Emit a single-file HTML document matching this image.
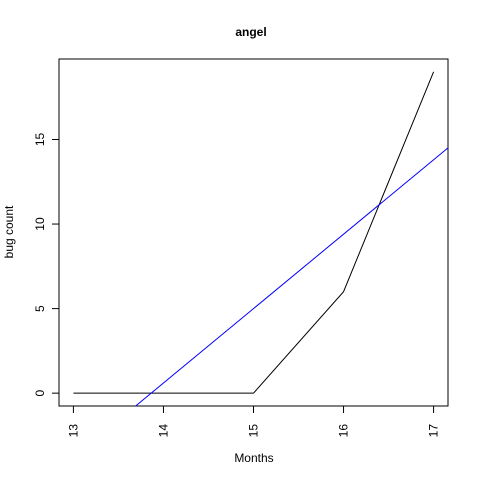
<!DOCTYPE html>
<html><head><meta charset="utf-8"><style>
html,body{margin:0;padding:0;background:#fff;overflow:hidden;width:480px;height:480px}
svg{display:block;overflow:hidden}
svg text{font-family:"Liberation Sans",Arial,sans-serif;font-size:12px;fill:#000}
</style></head><body>
<svg id="c" width="480" height="480"></svg>
<script>
const months=[13,14,15,16,17];
const bugs=[0,0,0,6,19];
const xTicks=[13,14,15,16,17];
const yTicks=[0,5,10,15];
const X0=59,X1=448,Y0=406,Y1=59;
const xmin=12.84,xmax=17.16,ymin=-0.76,ymax=19.76;
const sx=v=>X0+(v-xmin)/(xmax-xmin)*(X1-X0);
const sy=v=>Y0-(v-ymin)/(ymax-ymin)*(Y0-Y1);
const svg=document.getElementById('c');
const NS='http://www.w3.org/2000/svg';
function mk(t,a,p){const e=document.createElementNS(NS,t);for(const k in a)e.setAttribute(k,a[k]);(p||svg).appendChild(e);return e;}
let t=mk('text',{x:251,y:36,'text-anchor':'middle','font-weight':'bold','font-size':'15'});t.textContent='angel';


let b=mk('rect',{x:X0,y:Y1,width:X1-X0,height:Y0-Y1,fill:'none',stroke:'#000'});


xTicks.forEach(v=>{const x=sx(v);
 const l=mk('line',{x1:x,x2:x,y1:Y0,y2:Y0+7,stroke:'#000'});
 
 
 const tx=mk('text',{x:0,y:0,transform:`translate(${x+4},${Y0+18}) rotate(-90)`,'text-anchor':'end'});tx.textContent=v;
 
 
});
yTicks.forEach(v=>{const y=sy(v);
 const l=mk('line',{x1:X0-7,x2:X0,y1:y,y2:y,stroke:'#000'});
 
 
 const tx=mk('text',{x:0,y:0,transform:`translate(${X0-15},${y}) rotate(-90)`,'text-anchor':'middle'});tx.textContent=v;
 
 
});
t=mk('text',{x:254,y:462,'text-anchor':'middle'});t.textContent='Months';


t=mk('text',{x:0,y:0,transform:'translate(13,232) rotate(-90)','text-anchor':'middle'});t.textContent='bug count';


let pl=mk('polyline',{points:months.map((m,i)=>sx(m)+','+sy(bugs[i])).join(' '),fill:'none',stroke:'#000'});


const n=months.length,mx=months.reduce((a,c)=>a+c)/n,my=bugs.reduce((a,c)=>a+c)/n;
let sxy=0,sxx=0;months.forEach((m,i)=>{sxy+=(m-mx)*(bugs[i]-my);sxx+=(m-mx)**2;});
const slope=sxy/sxx,ic=my-slope*mx;
const f=x=>ic+slope*x, g=y=>(y-ic)/slope;
let xa=xmin,xb=xmax;
if(slope>0){xa=Math.max(xmin,g(ymin));xb=Math.min(xmax,g(ymax));}
else if(slope<0){xa=Math.max(xmin,g(ymax));xb=Math.min(xmax,g(ymin));}
let rl=mk('line',{x1:sx(xa),y1:sy(f(xa)),x2:sx(xb),y2:sy(f(xb)),stroke:'#00f'});


</script>
</body></html>
